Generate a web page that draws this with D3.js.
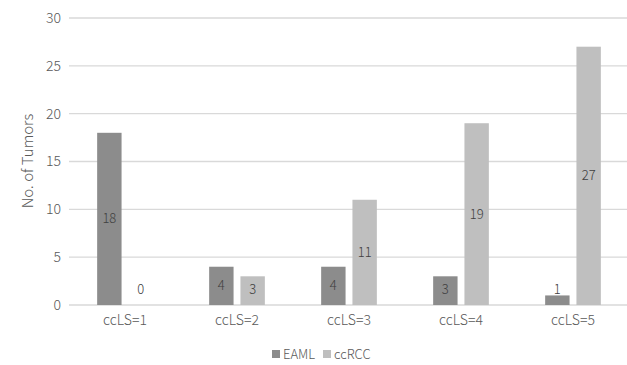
<!DOCTYPE html>
<html><head><meta charset="utf-8">
<script src="https://cdn.jsdelivr.net/npm/d3@7"></script>
<style>body{margin:0;background:#fff}svg{display:block}text{font-family:"Noto Sans CJK SC","Noto Sans",sans-serif;font-weight:300}</style>
</head><body><svg id="c" width="627" height="365"></svg>
<script>
const categories = ["ccLS=1","ccLS=2","ccLS=3","ccLS=4","ccLS=5"];
const seriesNames = ["EAML","ccRCC"];
const eaml = [18,4,4,3,1];
const ccrcc = [0,3,11,19,27];
const yTicks = [0,5,10,15,20,25,30];
const colors = ["#8c8c8c","#bfbfbf"];

const svg = d3.select("#c");
const m = {l:69, r:-2, t:18, b:60};
const W = 627, H = 365;
const x = d3.scaleBand().domain(categories).range([m.l, W - m.r]).paddingInner(0).paddingOuter(0);
const y = d3.scaleLinear().domain([0,30]).range([305, 18]);
const xs = d3.scaleBand().domain(seriesNames).range([0, x.bandwidth()]).paddingInner(0.22).paddingOuter(0.9);

svg.append("g").selectAll("line").data(yTicks).join("line")
  .attr("x1", m.l).attr("x2", W).attr("y1", d=>y(d)).attr("y2", d=>y(d))
  .attr("stroke", "#d9d9d9").attr("stroke-width", 1.3);

const ff = '"Noto Sans CJK SC","Noto Sans",sans-serif';
const yAxis = d3.axisLeft(y).tickValues(yTicks).tickSize(0).tickPadding(0);
const ya = svg.append("g").attr("transform", `translate(${m.l-8},0)`).call(yAxis);
ya.select(".domain").remove();
ya.selectAll("text").attr("fill","#595959").style("font-size","14px").attr("font-family",ff).attr("font-weight",300);

const xAxis = d3.axisBottom(x).tickSize(0).tickPadding(0);
const xa = svg.append("g").attr("transform", `translate(0,315)`).call(xAxis);
xa.select(".domain").remove();
xa.selectAll("text").attr("fill","#595959").style("font-size","14px").attr("font-family",ff).attr("font-weight",300);

svg.append("text").attr("transform","translate(33,161) rotate(-90)").attr("text-anchor","middle")
  .attr("fill","#595959").style("font-size","15px").text("No. of Tumors");

const data = [];
categories.forEach((c,i)=>{
  data.push({c, s:"EAML", v:eaml[i], k:0});
  data.push({c, s:"ccRCC", v:ccrcc[i], k:1});
});

svg.append("g").selectAll("rect").data(data).join("rect")
  .attr("x", d=>x(d.c)+xs(d.s)).attr("width", xs.bandwidth())
  .attr("y", d=>y(d.v)).attr("height", d=>y(0)-y(d.v))
  .attr("fill", d=>colors[d.k]);

svg.append("g").selectAll("text").data(data).join("text")
  .attr("x", d=>x(d.c)+xs(d.s)+xs.bandwidth()/2)
  .attr("y", d=>Math.min((y(d.v)+y(0))/2, y(0)-16))
  .attr("dy","0.35em").attr("text-anchor","middle")
  .attr("fill","#404040").style("font-size","13px").text(d=>d.v);

const lg = svg.append("g");
const items = [{n:"EAML",c:colors[0],x:272},{n:"ccRCC",c:colors[1],x:323}];
items.forEach(it=>{
  lg.append("rect").attr("x",it.x).attr("y",350).attr("width",8).attr("height",8).attr("fill",it.c);
  lg.append("text").attr("x",it.x+11).attr("y",354).attr("dy","0.35em").attr("fill","#595959").style("font-size","13px").text(it.n);
});
</script></body></html>
